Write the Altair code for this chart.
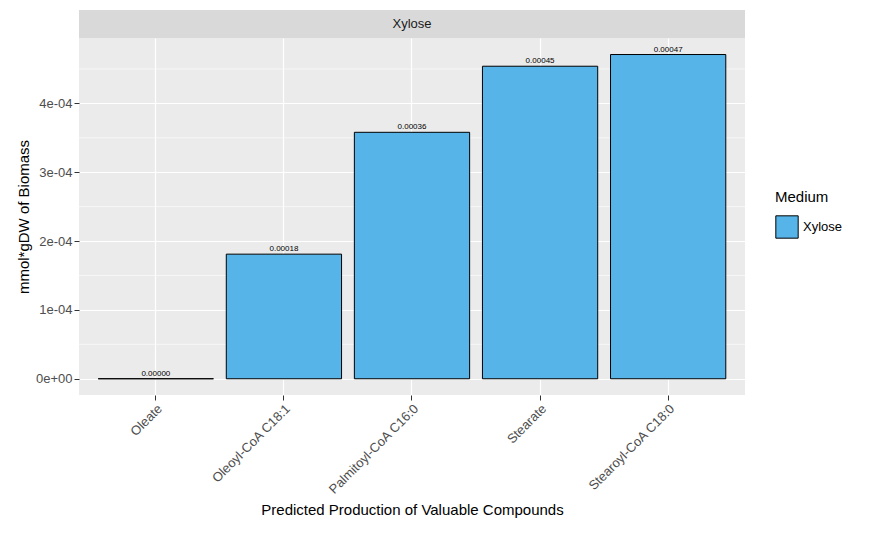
import altair as alt
import pandas as pd

compounds = ["Oleate", "Oleoyl-CoA C18:1", "Palmitoyl-CoA C16:0", "Stearate", "Stearoyl-CoA C18:0"]
values = [0.0, 0.000181, 0.000358, 0.000454, 0.000471]
medium = ["Xylose"] * 5
major_ticks = [0, 0.0001, 0.0002, 0.0003, 0.0004]
minor_ticks = [0.00005, 0.00015, 0.00025, 0.00035, 0.00045]

df = pd.DataFrame({"compound": compounds, "value": values, "Medium": medium})
df["label"] = [f"{v:.5f}" for v in values]
minor_df = pd.DataFrame({"y": minor_ticks})

W, H = 666, 357
ydom = [-0.0000236, 0.000495]
yscale = alt.Scale(domain=ydom, nice=False, zero=False)
xscale = alt.Scale(paddingInner=0.1, paddingOuter=0.15)

base = alt.Chart(df)

minor = alt.Chart(minor_df).mark_rule(color="white", strokeWidth=0.6).encode(
    y=alt.Y("y:Q", scale=yscale)
)

bars = base.mark_bar(stroke="black", strokeWidth=1).encode(
    x=alt.X("compound:N", scale=xscale, sort=compounds,
            title="Predicted Production of Valuable Compounds",
            axis=alt.Axis(labelAngle=-45, labelAlign="right", labelBaseline="top",
                          grid=True, bandPosition=0.5, gridColor="white", gridWidth=1.2,
                          labelFontSize=13, labelColor="#4D4D4D", tickColor="#333333",
                          titleFontSize=15, titleFontWeight="normal", domain=False,
                          titlePadding=6, titleColor="black")),
    y=alt.Y("value:Q", scale=yscale, title="mmol*gDW of Biomass",
            axis=alt.Axis(values=major_ticks, gridColor="white", gridWidth=1.2,
                          labelExpr="datum.value == 0 ? '0e+00' : replace(format(datum.value, '.0e'), 'e-', 'e-0')",
                          labelFontSize=13, labelColor="#4D4D4D", tickColor="#333333",
                          titleFontSize=15, titleFontWeight="normal", domain=False,
                          titleColor="black")),
    color=alt.Color("Medium:N", scale=alt.Scale(range=["#56B4E9"]),
                    legend=alt.Legend(titleFontSize=15, titleFontWeight="normal", labelFontSize=13,
                                      symbolType="square", symbolSize=500, symbolStrokeColor="black",
                                      symbolStrokeWidth=1, labelColor="black", titleColor="black",
                                      titlePadding=10, orient="none", legendX=696, legendY=180)),
)

text = base.mark_text(dy=-5, fontSize=8, color="black").encode(
    x=alt.X("compound:N", scale=xscale, sort=compounds),
    y=alt.Y("value:Q", scale=yscale),
    text="label:N",
)

main = alt.layer(minor, bars, text).properties(
    width=W, height=H, view=alt.ViewBackground(fill="#EBEBEB", stroke=None)
)

strip_df = pd.DataFrame({"t": ["Xylose"]})
strip = alt.Chart(strip_df).mark_text(fontSize=13, color="#1A1A1A").encode(
    text="t:N"
).properties(width=W, height=28, view=alt.ViewBackground(fill="#D9D9D9", stroke=None))

chart = alt.vconcat(strip, main, spacing=0).properties(
    background="white", padding={"left": 8, "top": 2, "right": 5, "bottom": 5}
).configure(font="Liberation Sans")

chart.save("out.html", embed_options={"renderer": "svg", "actions": False})
